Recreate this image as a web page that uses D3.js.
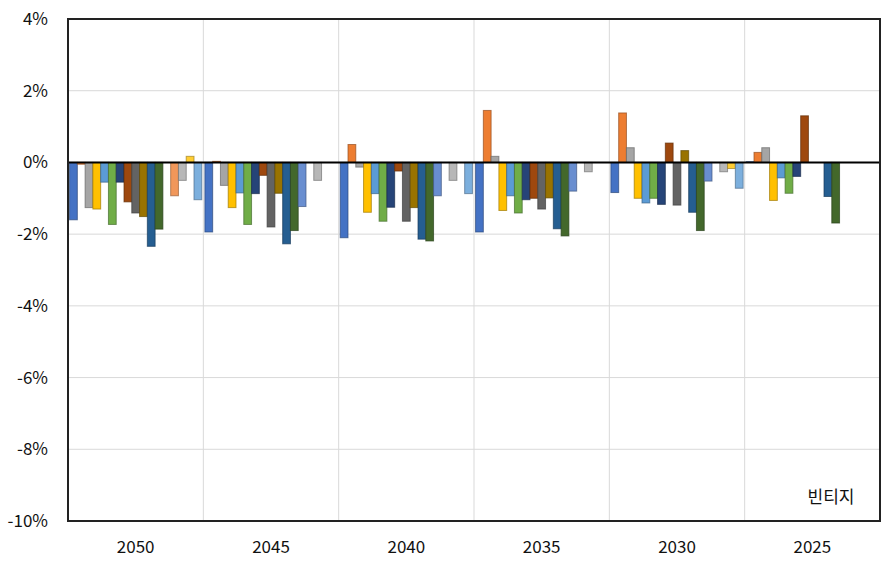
<!DOCTYPE html>
<html><head><meta charset="utf-8">
<script src="https://cdn.jsdelivr.net/npm/d3@7"></script>
<style>body{margin:0;background:#fff;} text{font-family:"Noto Sans CJK KR","Open Sans",sans-serif;}</style>
</head><body><svg id="c" width="895" height="564"></svg>
<script>
const vintages = ["2050","2045","2040","2035","2030","2025"];
const seriesNames = ["S1","S2","S3","S4","S5","S6","S7","S8","S9","S10","S11","S12","S13","S14","S15","S16","S17"];
const seriesColors = ["#4472C4","#ED7D31","#A5A5A5","#FFC000","#5B9BD5","#70AD47","#264478","#9E480E","#636363","#997300","#255E91","#43682B","#698ED0","#F1975A","#B7B7B7","#FFCD33","#7CAFDD"];
// values in %, one row per vintage, one entry per series (null = no bar)
const v2050 = [-1.60,-0.05,-1.26,-1.30,-0.55,-1.73,-0.55,-1.10,-1.41,-1.51,-2.34,-1.86,null,-0.93,-0.50,0.17,-1.04];
const v2045 = [-1.94,0.03,-0.64,-1.26,-0.85,-1.73,-0.87,-0.36,-1.80,-0.86,-2.27,-1.90,-1.23,null,-0.50,null,null];
const v2040 = [-2.10,0.50,-0.13,-1.39,-0.87,-1.64,-1.25,-0.24,-1.64,-1.26,-2.14,-2.19,-0.93,null,-0.50,null,-0.87];
const v2035 = [-1.94,1.45,0.17,-1.34,-0.93,-1.41,-1.04,-1.00,-1.30,-0.99,-1.85,-2.05,-0.80,null,-0.26,null,null];
const v2030 = [-0.84,1.38,0.41,-1.00,-1.13,-1.00,-1.17,0.54,-1.19,0.33,-1.39,-1.90,-0.52,null,-0.26,-0.17,-0.72];
const v2025 = [0.02,0.28,0.41,-1.06,-0.43,-0.86,-0.39,1.30,null,null,-0.95,-1.69,null,null,null,null,null];
const yTicks = [4,2,0,-2,-4,-6,-8,-10];
const axisTitle = "빈티지";

const rows = [v2050,v2045,v2040,v2035,v2030,v2025];
const svg = d3.select("#c");
const L=68, R=880, T=19, B=521;
const x0 = d3.scaleBand().domain(vintages).range([L,R]).padding(0);
const x1 = d3.scaleBand().domain(seriesNames).range([0,x0.bandwidth()]).paddingInner(0).paddingOuter(0.2);
const y = d3.scaleLinear().domain([-10,4]).range([B,T]);

// gridlines
svg.append("g").selectAll("line").data(yTicks).join("line")
  .attr("x1",L).attr("x2",R).attr("y1",d=>y(d)).attr("y2",d=>y(d))
  .attr("stroke","#d9d9d9").attr("stroke-width",1);
svg.append("g").selectAll("line").data(vintages.slice(1)).join("line")
  .attr("x1",d=>x0(d)).attr("x2",d=>x0(d)).attr("y1",T).attr("y2",B)
  .attr("stroke","#d9d9d9").attr("stroke-width",1);

// bars
const data = [];
vintages.forEach((v,i)=>rows[i].forEach((val,j)=>{ if(val!==null) data.push({v,s:seriesNames[j],c:seriesColors[j],val}); }));
svg.append("g").selectAll("rect").data(data).join("rect")
  .attr("x",d=>x0(d.v)+x1(d.s))
  .attr("width",x1.bandwidth())
  .attr("y",d=>y(Math.max(0,d.val)))
  .attr("height",d=>Math.abs(y(d.val)-y(0)))
  .attr("fill",d=>d.c)
  .attr("stroke",d=>d3.color(d.c).darker(1.3))
  .attr("stroke-opacity",0.7)
  .attr("stroke-width",1);

// zero line
svg.append("line").attr("x1",L).attr("x2",R).attr("y1",y(0)).attr("y2",y(0)).attr("stroke","#000").attr("stroke-width",2);
// frame
svg.append("rect").attr("x",L).attr("y",T).attr("width",R-L).attr("height",B-T).attr("fill","none").attr("stroke","#222").attr("stroke-width",2);

// y labels
const yAxis = d3.axisLeft(y).tickValues(yTicks).tickFormat(d=>d+"%").tickSize(0).tickPadding(20);
const ya = svg.append("g").attr("transform",`translate(${L},0)`).call(yAxis);
ya.select(".domain").remove();
ya.selectAll("text").attr("font-size",17).attr("fill","#111").style("font-family",'"Noto Sans CJK KR","Open Sans",sans-serif');

// x labels
const xAxis = d3.axisBottom(x0).tickSize(0).tickPadding(20);
const xa = svg.append("g").attr("transform",`translate(0,${B})`).call(xAxis);
xa.select(".domain").remove();
xa.selectAll("text").attr("font-size",17).attr("fill","#111").style("font-family",'"Noto Sans CJK KR","Open Sans",sans-serif');

svg.append("text").attr("x",831).attr("y",503).attr("text-anchor","middle").attr("font-size",17).attr("fill","#111").text(axisTitle);
</script></body></html>
